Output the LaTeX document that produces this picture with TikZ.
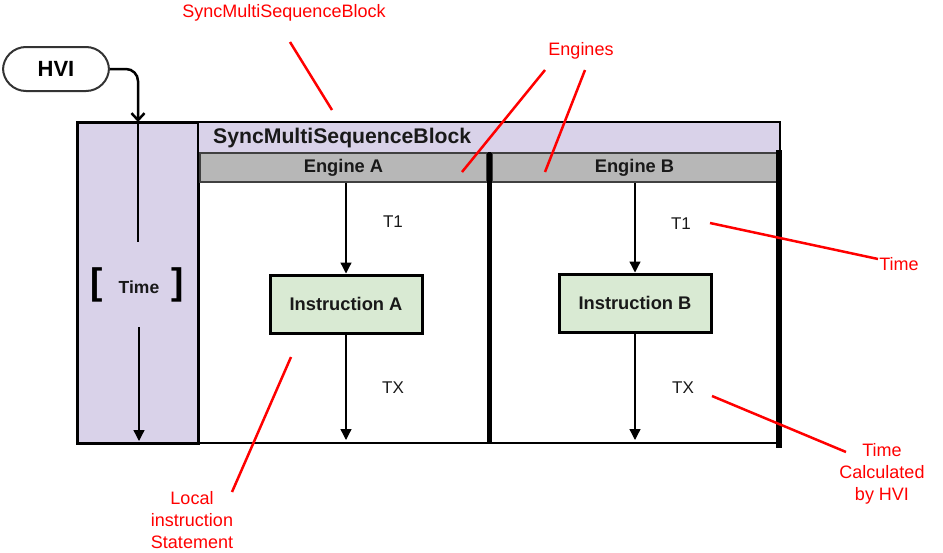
\documentclass[tikz,border=0pt]{standalone}
\usepackage{fontspec}
\setmainfont{Liberation Sans}
\usetikzlibrary{arrows.meta}
\definecolor{lav}{RGB}{217,210,233}
\definecolor{engray}{RGB}{183,183,183}
\definecolor{insgreen}{RGB}{217,234,211}
\definecolor{annred}{RGB}{255,0,0}
\definecolor{txtdark}{RGB}{25,25,25}
\tikzset{
  stadium/.style={draw=black!80, line width=2pt, rounded corners=23pt, minimum width=106pt, minimum height=44pt, inner sep=0pt, font=\fontsize{22}{22}\selectfont\bfseries},
  enginebar/.style={draw=black!75, fill=engray, line width=1.5pt, inner sep=0pt, font=\fontsize{18.3}{18.3}\selectfont\bfseries, text=txtdark},
  instr/.style={draw=black, fill=insgreen, line width=3pt, minimum width=152pt, minimum height=58pt, inner sep=0pt, font=\fontsize{18.3}{18.3}\selectfont\bfseries, text=txtdark},
  lbl/.style={font=\fontsize{17}{17}\selectfont, text=txtdark, inner sep=0pt},
  ann/.style={font=\fontsize{18}{22}\selectfont, text=annred, align=center, inner sep=0pt},
  annline/.style={draw=annred, line width=2.5pt},
  arr/.style={draw=black, line width=1.3pt, -{Triangle[length=11pt,width=11pt]}},
  frame/.style={draw=black, line width=3pt},
}
\begin{document}
\begin{tikzpicture}[x=1pt,y=-1pt]
\useasboundingbox (0,0) rectangle (943,552);
% left time column
\draw[frame, fill=lav] (77,122) rectangle (198,443);
% header
\draw[draw=black, line width=2.5pt, fill=lav] (198,122) rectangle (780,153);
\node[anchor=west, inner sep=0pt, font=\fontsize{21.2}{21.2}\selectfont\bfseries, text=txtdark] (smsb) at (213,138) {SyncMultiSequenceBlock};
% engine bars
\node[enginebar, minimum width=287pt, minimum height=29pt] (engA) at (343.5,167.5) {Engine A};
\node[enginebar, minimum width=285pt, minimum height=29pt] (engB) at (634.5,167.5) {Engine B};
% divider, right edge, bottom
\coordinate (divtop) at (489.5,153);
\coordinate (divbot) at (489.5,443);
\draw[draw=black, line width=5pt] (divtop) -- (divbot);
\coordinate (rtop) at (779,150);
\coordinate (rbot) at (779,448);
\draw[draw=black, line width=6pt] (rtop) -- (rbot);
\coordinate (bl) at (198,443);
\coordinate (br) at (776,443);
\draw[draw=black, line width=2.5pt] (bl) -- (br);
% instructions
\node[instr] (ia) at (346,304) {Instruction A};
\node[instr] (ib) at (635,303) {Instruction B};
\coordinate (bot) at (0,440);
\draw[arr] (ia.north |- engA.south) -- (ia.north);
\draw[arr] (ia.south) -- (ia.south |- bot);
\draw[arr] (ib.north |- engB.south) -- (ib.north);
\draw[arr] (ib.south) -- (ib.south |- bot);
\node[lbl] (t1a) at (393,222) {T1};
\node[lbl] (txa) at (393,388) {TX};
\node[lbl] (t1b) at (681,224) {T1};
\node[lbl] (txb) at (683,388) {TX};
% HVI
\node[stadium] (hvi) at (56,69) {HVI};
\coordinate (ctop) at (138,122);
\coordinate (cmid) at (138,242);
\draw[draw=black, line width=2.5pt, rounded corners=12pt, -{Straight Barb[length=7pt,width=13pt]}] (hvi.east) -| (ctop);
\draw[draw=black, line width=1.3pt] (ctop) -- (cmid);
% time
\node[inner sep=0pt, font=\fontsize{17.5}{17.5}\selectfont\bfseries, text=txtdark] (time) at (139,287) {Time};
\node[inner sep=0pt, font=\fontsize{37}{37}\selectfont\bfseries] (lbr) at (97,285) {[};
\node[inner sep=0pt, font=\fontsize{37}{37}\selectfont\bfseries] (rbr) at (178,285) {]};
\coordinate (tstart) at (139,327);
\coordinate (tend) at (139,441);
\draw[arr] (tstart) -- (tend);
% annotations
\node[ann] (asmsb) at (284,13) {SyncMultiSequenceBlock};
\coordinate (a1s) at (290,42); \coordinate (a1e) at (332,110);
\draw[annline] (a1s) -- (a1e);
\node[ann] (aeng) at (581,51) {Engines};
\coordinate (a2s) at (545,70); \coordinate (a2e) at (462,172);
\coordinate (a3s) at (585,70); \coordinate (a3e) at (545,172);
\draw[annline] (a2s) -- (a2e);
\draw[annline] (a3s) -- (a3e);
\node[ann] (atime) at (899,264) {Time};
\coordinate (a4s) at (710,223); \coordinate (a4e) at (878,259);
\draw[annline] (a4s) -- (a4e);
\node[ann] (acalc) at (882,474) {Time\\Calculated\\by HVI};
\coordinate (a5s) at (712,396); \coordinate (a5e) at (846,452);
\draw[annline] (a5s) -- (a5e);
\node[ann] (alocal) at (192,520) {Local\\instruction\\Statement};
\coordinate (a6s) at (232,492); \coordinate (a6e) at (291,357);
\draw[annline] (a6s) -- (a6e);
\end{tikzpicture}
\end{document}
